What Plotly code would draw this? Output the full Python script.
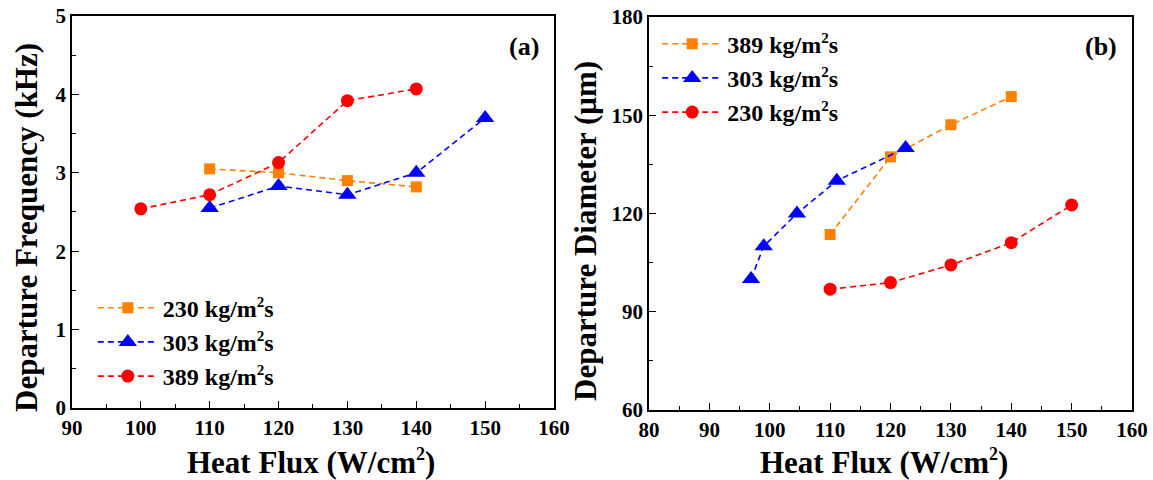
import plotly.graph_objects as go

# Panel (a): departure frequency (kHz)
a_x_230 = [110, 120, 130, 140]
a_y_230 = [3.05, 3.00, 2.90, 2.82]
a_x_303 = [110, 120, 130, 140, 150]
a_y_303 = [2.55, 2.83, 2.72, 3.00, 3.70]
a_x_389 = [100, 110, 120, 130, 140]
a_y_389 = [2.54, 2.72, 3.13, 3.92, 4.07]

# Panel (b): departure diameter (um)
b_x_389 = [110, 120, 130, 140]
b_y_389 = [113.6, 137.3, 147.1, 155.7]
b_x_303 = [96.9, 99.0, 104.5, 111.1, 122.5]
b_y_303 = [100.0, 110.0, 120.0, 130.0, 140.0]
b_x_230 = [110, 120, 130, 140, 150]
b_y_230 = [96.9, 98.9, 104.3, 111.1, 122.6]

SUP2 = "<sup><span style='font-size:15px'>2</span></sup>"
labels_a = ["230 kg/m" + SUP2 + "s", "303 kg/m" + SUP2 + "s", "389 kg/m" + SUP2 + "s"]
labels_b = ["389 kg/m" + SUP2 + "s", "303 kg/m" + SUP2 + "s", "230 kg/m" + SUP2 + "s"]

ORANGE = "rgb(255,128,0)"
BLUE = "rgb(0,0,255)"
RED = "rgb(255,0,0)"
FONT = "Liberation Serif"

fig = go.Figure()

def add(x, y, name, color, symbol, size, xa, ya, legend):
    fig.add_trace(go.Scatter(
        x=x, y=y, name=name, mode="lines+markers",
        line=dict(color=color, width=1.6, dash="6px,4px"),
        marker=dict(color=color, symbol=symbol, size=size),
        xaxis=xa, yaxis=ya, legend=legend))

add(a_x_230, a_y_230, labels_a[0], ORANGE, "square", 11, "x", "y", "legend")
add(a_x_303, a_y_303, labels_a[1], BLUE, "triangle-up", 16, "x", "y", "legend")
add(a_x_389, a_y_389, labels_a[2], RED, "circle", 13, "x", "y", "legend")

add(b_x_389, b_y_389, labels_b[0], ORANGE, "square", 11, "x2", "y2", "legend2")
add(b_x_303, b_y_303, labels_b[1], BLUE, "triangle-up", 16, "x2", "y2", "legend2")
add(b_x_230, b_y_230, labels_b[2], RED, "circle", 13, "x2", "y2", "legend2")

tickfont = dict(family=FONT, size=21, color="black", weight="bold")
common = dict(showline=True, linewidth=1.5, linecolor="black", mirror=True,
              ticks="inside", ticklen=7, tickwidth=1.3, tickcolor="black",
              showgrid=False, zeroline=False, tickfont=tickfont, automargin=False)

fig.update_layout(
    width=1153, height=480,
    margin=dict(l=0, r=0, t=0, b=0, autoexpand=False),
    paper_bgcolor="white", plot_bgcolor="white",
    showlegend=True,
    xaxis=dict(domain=[0.0624, 0.4805], range=[90, 160], dtick=10, tick0=90,
               minor=dict(dtick=5, ticks="inside", ticklen=4, tickcolor="black"),
               anchor="y", **common),
    yaxis=dict(domain=[0.15, 0.9667], range=[0, 5], dtick=1, tick0=0,
               minor=dict(dtick=0.5, ticks="inside", ticklen=4, tickcolor="black"),
               anchor="x", **common),
    xaxis2=dict(domain=[0.5629, 0.9818], range=[80, 160], dtick=10, tick0=80,
                minor=dict(dtick=5, ticks="inside", ticklen=4, tickcolor="black"),
                anchor="y2", **common),
    yaxis2=dict(domain=[0.1458, 0.9646], range=[60, 180], dtick=30, tick0=60,
                minor=dict(dtick=15, ticks="inside", ticklen=4, tickcolor="black"),
                anchor="x2", **common),
    legend=dict(x=0.0805, y=0.405, xanchor="left", yanchor="top",
                bgcolor="rgba(0,0,0,0)", font=dict(family=FONT, size=24, color="black", weight="bold"),
                itemwidth=60),
    legend2=dict(x=0.570, y=0.955, xanchor="left", yanchor="top",
                 bgcolor="rgba(0,0,0,0)", font=dict(family=FONT, size=24, color="black", weight="bold"),
                 itemwidth=60),
)

title_font = dict(family=FONT, size=31, color="black", weight="bold")
XT = "Heat Flux (W/cm<sup><span style='font-size:18px'>2</span></sup>)"
ann = [
    dict(text=XT, x=311/1153, y=1-462/480, textangle=0),
    dict(text=XT, x=884/1153, y=1-462/480, textangle=0),
    dict(text="Departure Frequency (kHz)", x=26/1153, y=1-228/480, textangle=-90),
    dict(text="Departure Diameter (μm)", x=586/1153, y=1-231/480, textangle=-90),
]
for a in ann:
    fig.add_annotation(xref="paper", yref="paper", showarrow=False,
                       xanchor="center", yanchor="middle", font=title_font, **a)

label_font = dict(family=FONT, size=26, color="black", weight="bold")
fig.add_annotation(text="(a)", xref="paper", yref="paper", x=524/1153, y=1-47/480,
                   showarrow=False, xanchor="center", yanchor="middle", font=label_font)
fig.add_annotation(text="(b)", xref="paper", yref="paper", x=1101/1153, y=1-47/480,
                   showarrow=False, xanchor="center", yanchor="middle", font=label_font)

fig.write_html("out.html")
